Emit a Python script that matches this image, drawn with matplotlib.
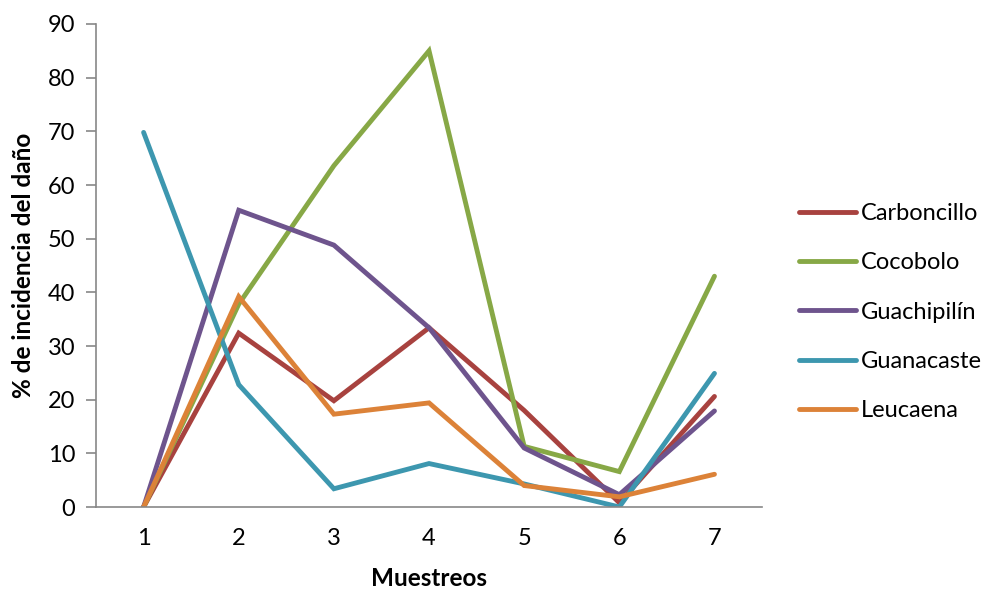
import matplotlib
matplotlib.use('Agg')
import matplotlib.pyplot as plt

plt.rcParams['font.family'] = ['Lato', 'DejaVu Sans']

muestreos = [1, 2, 3, 4, 5, 6, 7]
carboncillo = [0, 32.4, 19.8, 33.4, 18.0, 0.8, 20.6]
cocobolo = [0, 37.8, 63.6, 85.0, 11.3, 6.6, 43.0]
guachipilin = [0, 55.3, 48.8, 33.4, 11.0, 2.3, 17.9]
guanacaste = [69.8, 22.8, 3.4, 8.1, 4.3, 0, 24.9]
leucaena = [0, 39.2, 17.3, 19.4, 4.0, 1.9, 6.1]

series = [
    ('Carboncillo', carboncillo, '#A8423F'),
    ('Cocobolo', cocobolo, '#87A846'),
    ('Guachipilín', guachipilin, '#6E548D'),
    ('Guanacaste', guanacaste, '#3D97AF'),
    ('Leucaena', leucaena, '#DC8238'),
]

fig = plt.figure(figsize=(9.89, 5.91), dpi=100)
ax = fig.add_axes([0.0971, 0.1421, 0.6734, 0.8173])

for name, vals, color in series:
    ax.plot(muestreos, vals, color=color, linewidth=3.5, label=name,
            solid_joinstyle='miter', solid_capstyle='round')

ax.set_xlim(0.5, 7.5)
ax.set_ylim(0, 90)
ax.set_yticks(range(0, 91, 10))
ax.set_xticks(muestreos)

for side in ('top', 'right'):
    ax.spines[side].set_visible(False)
for side in ('left', 'bottom'):
    ax.spines[side].set_color('#878787')
    ax.spines[side].set_linewidth(1.2)

ax.tick_params(axis='y', length=7, width=1.2, color='#878787',
               labelsize=17, pad=8)
ax.tick_params(axis='x', length=0, labelsize=17, pad=15)

ax.set_xlabel('Muestreos', fontsize=17.5, fontweight='bold', labelpad=13)
ax.set_ylabel('% de incidencia del daño', fontsize=17.5, fontweight='bold',
              labelpad=9)

ax.legend(loc='center left', bbox_to_anchor=(0.808, 0.472),
          bbox_transform=fig.transFigure, frameon=False,
          fontsize=17, handlelength=2.4, handletextpad=0.2,
          labelspacing=1.2, borderpad=0, borderaxespad=0)

fig.savefig('out.png', dpi=100)
